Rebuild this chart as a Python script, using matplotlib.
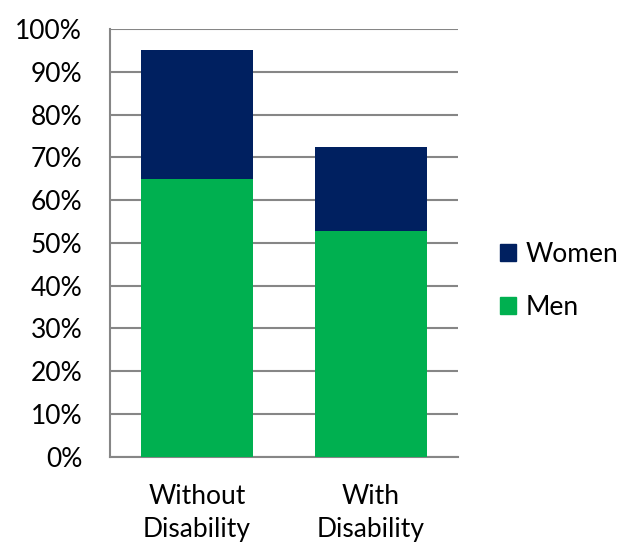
import numpy as np
import matplotlib
matplotlib.use("Agg")
import matplotlib.pyplot as plt
from matplotlib.patches import Patch

plt.rcParams['font.family'] = ['Lato', 'DejaVu Sans']

categories = ['Without\nDisability', 'With\nDisability']
men = [0.65, 0.528]
women = [0.30, 0.197]

navy = '#002060'
green = '#00B050'
grid_col = '#868686'

fig = plt.figure(figsize=(6.33, 5.48), dpi=100)
ax = fig.add_axes([110/633, 1 - 456.7/548, 348/633, (456.7 - 29)/548])

x = np.arange(len(categories))
ax.bar(x, men, width=0.64, color=green, zorder=3)
ax.bar(x, women, width=0.64, bottom=men, color=navy, zorder=3)

ax.set_xlim(-0.5, 1.5)
ax.set_ylim(0, 1.0)
ticks = np.arange(0, 1.01, 0.1)
ax.set_yticks(ticks)
ax.set_yticklabels([f'{int(round(v*100))}%' for v in ticks], fontsize=19)
ax.set_xticks(x)
ax.set_xticklabels(categories, fontsize=19, linespacing=1.38)
ax.tick_params(axis='y', length=0, pad=20)
ax.tick_params(axis='x', length=0, pad=20)

ax.grid(axis='y', color=grid_col, linewidth=1.5, zorder=0)
for s in ['top', 'right']:
    ax.spines[s].set_visible(False)
for s in ['left', 'bottom']:
    ax.spines[s].set_color(grid_col)
    ax.spines[s].set_linewidth(1.5)

handles = [Patch(color=navy, label='Women'), Patch(color=green, label='Men')]
fig.legend(handles=handles, loc='center left', bbox_to_anchor=(500/633, 1 - 281/548),
           frameon=False, fontsize=19, handlelength=0.62, handleheight=0.62,
           handletextpad=0.35, labelspacing=1.05, borderpad=0, borderaxespad=0)

fig.savefig('out.png', dpi=100)
